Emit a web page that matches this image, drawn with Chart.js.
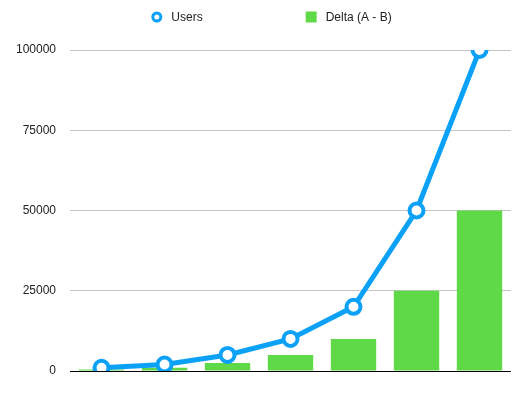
<!DOCTYPE html>
<html><head><meta charset="utf-8">
<script src="https://cdn.jsdelivr.net/npm/chart.js@4/dist/chart.umd.min.js"></script>
<style>html,body{margin:0;padding:0;background:#fff}#wrap{width:529px;height:396px}</style>
</head><body><div id="wrap"><canvas id="c" width="529" height="396"></canvas></div>
<script>
const categories = ["1","2","3","4","5","6","7"];
const users = [1000, 2000, 5000, 10000, 20000, 50000, 100000];
const delta = [500, 1000, 2500, 5000, 10000, 25000, 50000];
const yTicks = [0, 25000, 50000, 75000, 100000];

const blue = '#0ba1f6', green = '#5fd947';
const FONT = '"Liberation Sans", Arial, sans-serif';
Chart.defaults.font.family = FONT;
Chart.defaults.font.size = 12;
Chart.defaults.color = '#222';

// Simple centred legend drawn from the datasets, with wide spacing between items
const wideLegend = {
  id: 'wideLegend',
  afterDraw(chart) {
    const ctx = chart.ctx;
    const y = 17, box = 11, textGap = 9, itemGap = 103;
    ctx.save();
    ctx.font = '12px ' + FONT;
    ctx.textBaseline = 'middle';
    const items = chart.data.datasets.map(d => ({ label: d.label, type: d.type }));
    const widths = items.map(it => box + textGap + ctx.measureText(it.label).width);
    const total = widths.reduce((a, b) => a + b, 0) + itemGap * (items.length - 1);
    let x = (chart.width - total) / 2 + 7;
    items.forEach((it, i) => {
      if (it.type === 'line') {
        ctx.beginPath();
        ctx.arc(x + box / 2, y, 4, 0, Math.PI * 2);
        ctx.fillStyle = '#fff'; ctx.fill();
        ctx.lineWidth = 3; ctx.strokeStyle = blue; ctx.stroke();
      } else {
        ctx.fillStyle = green;
        ctx.fillRect(x, y - box / 2, box, box);
      }
      ctx.fillStyle = '#222';
      ctx.fillText(it.label, x + box + textGap, y + 1);
      x += widths[i] + itemGap;
    });
    ctx.restore();
  }
};

new Chart(document.getElementById('c'), {
  data: {
    labels: categories,
    datasets: [
      { type: 'line', label: 'Users', data: users, order: 0,
        borderColor: blue, backgroundColor: '#fff', borderWidth: 5,
        pointRadius: 7, pointBorderWidth: 4, pointBackgroundColor: '#fff', pointBorderColor: blue,
        pointStyle: 'circle', tension: 0 },
      { type: 'bar', label: 'Delta (A - B)', data: delta, order: 1,
        backgroundColor: green, borderWidth: 0 }
    ]
  },
  options: {
    responsive: false, animation: false,
    layout: { padding: { left: 2, right: 18, top: 50, bottom: 25 } },
    plugins: { tooltip: { enabled: false }, legend: { display: false } },
    scales: {
      x: { offset: true, grid: { display: false, drawTicks: false }, ticks: { display: false },
           border: { display: false } },
      y: { min: 0, max: 100000,
           afterBuildTicks(s) { s.ticks = yTicks.map(v => ({ value: v })); },
           ticks: { padding: 14, color: '#222', font: { size: 12 }, callback: v => String(v) },
           grid: { drawTicks: false, color: ctx => ctx.tick && ctx.tick.value === 0 ? '#000' : '#c4c4c4', lineWidth: 1 },
           border: { display: false } }
    }
  },
  plugins: [wideLegend]
});
</script></body></html>
